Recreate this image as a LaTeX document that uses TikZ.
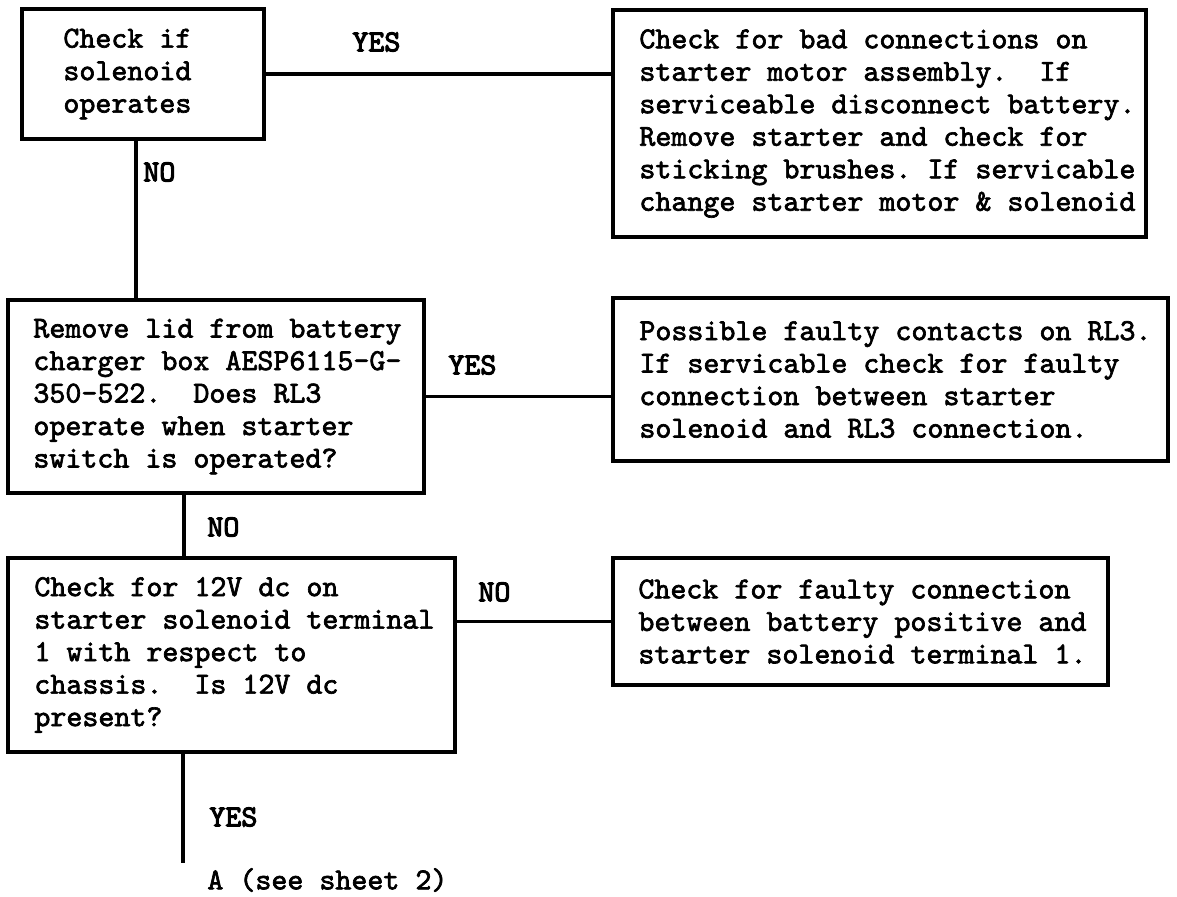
\documentclass[tikz,border=0pt]{standalone}
\usepackage{fontspec}
\newfontfamily\printfont{lmmono10-regular.otf}[FakeBold=2.2]
\newfontfamily\tagfont{lmmono10-regular.otf}[FakeBold=3.4]
\frenchspacing
\begin{document}
\begin{tikzpicture}[x=0.5pt,y=-0.5pt,
  every node/.style={font=\printfont\fontsize{15.24pt}{16.25pt}\selectfont},
  stepbox/.style={draw, line width=2pt, inner sep=0pt, outer sep=0pt, anchor=north west},
  body/.style={anchor=west, align=left, inner sep=0pt},
  tag/.style={anchor=west, inner sep=0pt, font=\tagfont\fontsize{15.24pt}{16.25pt}\selectfont},
  wire/.style={line width=1.6pt}]
\useasboundingbox (0,0) rectangle (1177,896);

% question and action boxes
\node[stepbox, minimum width=121pt, minimum height=65pt] (chk) at (22,9) {};
\node[body] (chkt) at ([xshift=20.5pt]chk.west) {Check if\\solenoid\\operates};

\node[stepbox, minimum width=266.5pt, minimum height=113.5pt] (bad) at (613,10) {};
\node[body] (badt) at ([xshift=13pt]bad.west) {Check for bad connections on\\starter motor assembly.\ \ If\\serviceable disconnect battery.\\Remove starter and check for\\sticking brushes. If servicable\\change starter motor \& solenoid};

\node[stepbox, minimum width=208pt, minimum height=96.5pt] (lid) at (8,300) {};
\node[body] (lidt) at ([xshift=12.5pt]lid.west) {Remove lid from battery\\charger box AESP6115-G-\\350-522.\ \ Does RL3\\operate when starter\\switch is operated?};

\node[stepbox, minimum width=277.5pt, minimum height=81.5pt] (cont) at (613,298) {};
\node[body] (contt) at ([xshift=13pt]cont.west) {Possible faulty contacts on RL3.\\If servicable check for faulty\\connection between starter\\solenoid and RL3 connection.};

\node[stepbox, minimum width=223.5pt, minimum height=97pt] (volt) at (8,558) {};
\node[body] (voltt) at ([xshift=13pt]volt.west) {Check for 12V dc on\\starter solenoid terminal\\1 with respect to\\chassis.\ \ Is 12V dc\\present?};

\node[stepbox, minimum width=247.5pt, minimum height=63.5pt] (feed) at (613,558) {};
\node[body] (feedt) at ([xshift=12.5pt]feed.west) {Check for faulty connection\\between battery positive and\\starter solenoid terminal 1.};

% connectors
\coordinate (g1) at (136,0);
\coordinate (g2) at (184,0);
\coordinate (endA) at (183,863);
\draw[wire] (chk.east) -- (chk.east -| bad.west);
\draw[wire] (chk.south -| g1) -- (lid.north -| g1);
\draw[wire] (lid.east) -- (lid.east -| cont.west);
\draw[wire] (lid.south -| g2) -- (volt.north -| g2);
\draw[wire] (feed.west) -- (feed.west -| volt.east);
\draw[wire] (volt.south -| endA) -- (endA);

% branch labels
\node[tag] (y1) at (352,42) {YES};
\node[tag] (n1) at (143,172) {NO};
\node[tag] (y2) at (448,365) {YES};
\node[tag] (n2) at (207,527) {NO};
\node[tag] (n3) at (478,592) {NO};
\node[tag] (y3) at (209,817) {YES};
\node[body] (sheet) at (207,880) {A (see sheet 2)};
\end{tikzpicture}
\end{document}
